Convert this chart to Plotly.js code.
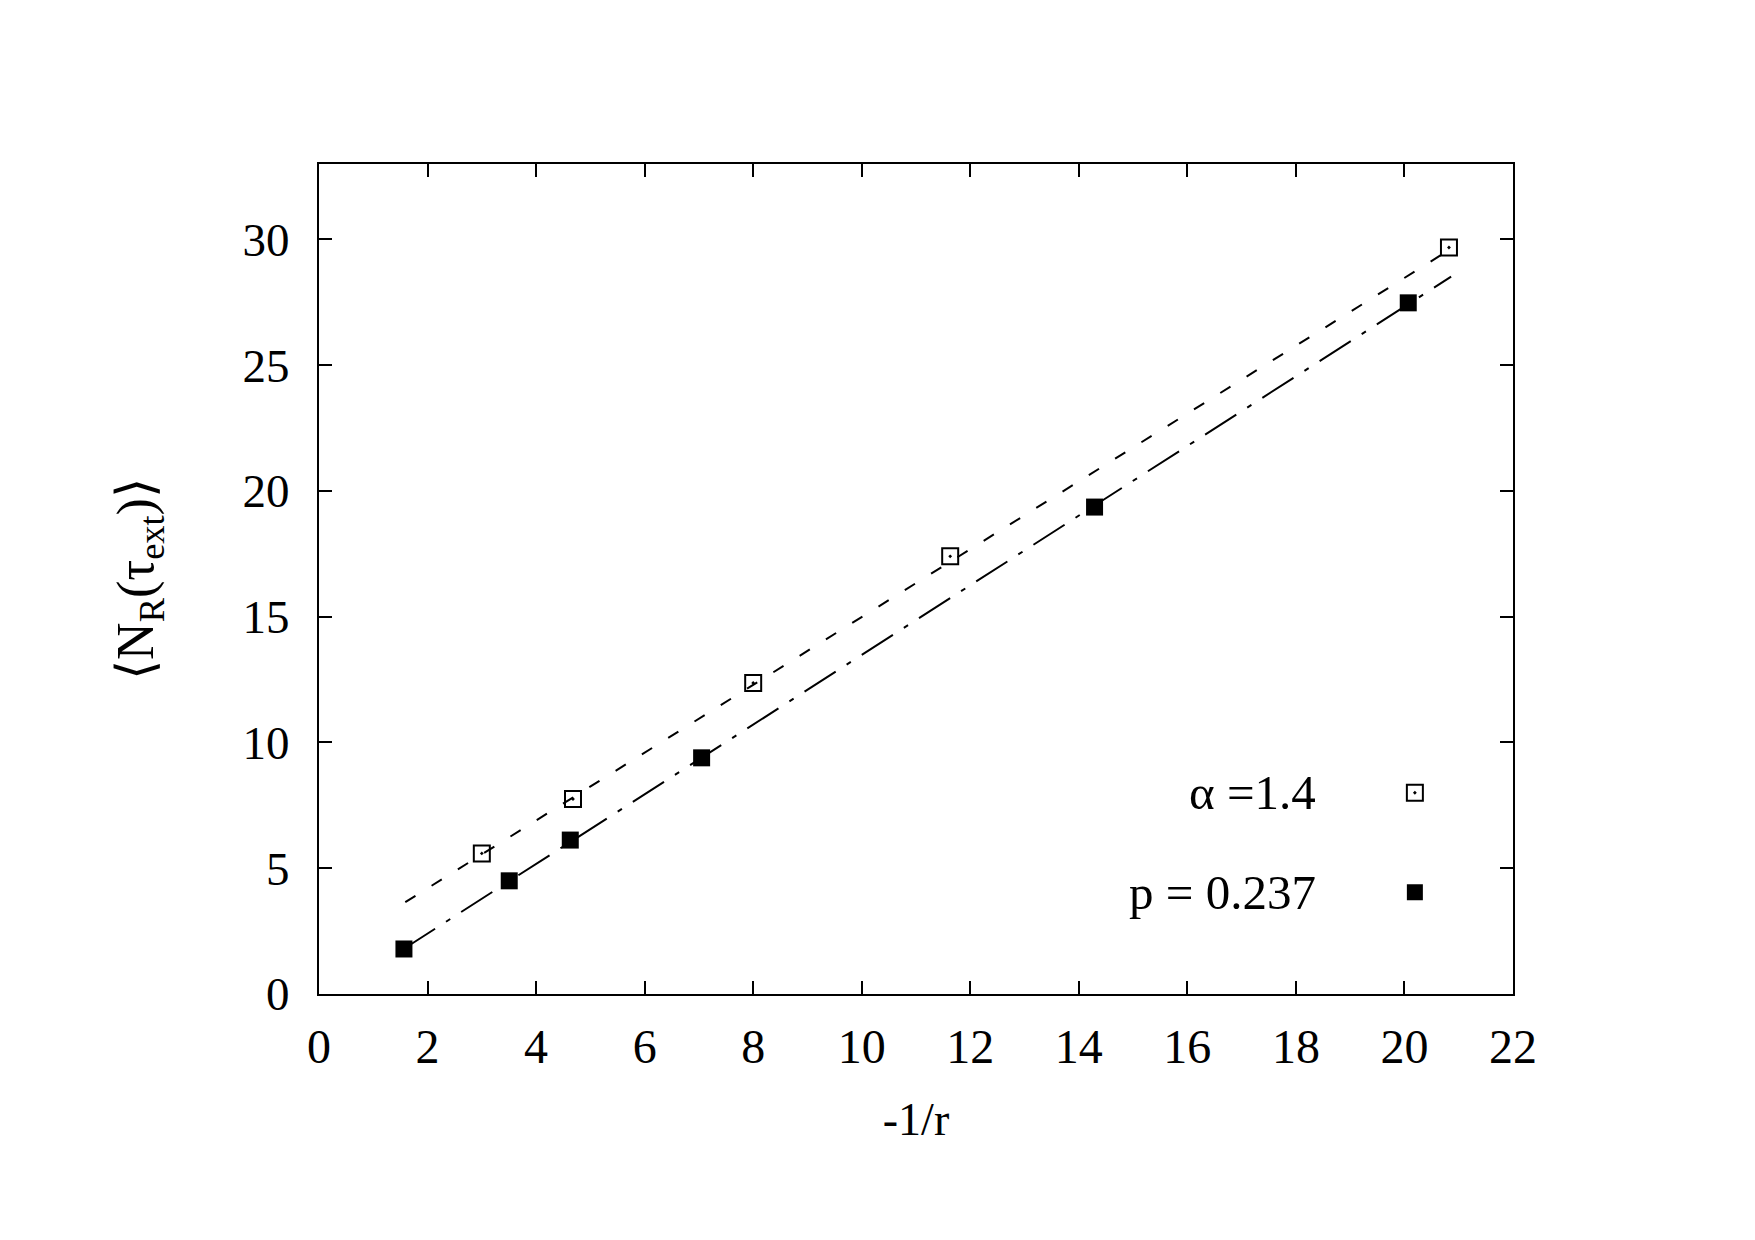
<!DOCTYPE html>
<html>
<head>
<meta charset="utf-8">
<script src="https://cdn.plot.ly/plotly-3.0.1.min.js"></script>
<style>html,body{margin:0;padding:0;background:#fff;}#chart{width:1755px;height:1240px;}</style>
</head>
<body>
<div id="chart"></div>
<script>
// Data
const alphaX = [3.0, 4.68, 8.0, 11.63, 20.82];
const alphaY = [5.59, 7.75, 12.37, 17.40, 29.68];
const pX = [1.565, 3.505, 4.63, 7.05, 14.29, 20.07];
const pY = [1.79, 4.50, 6.12, 9.39, 19.36, 27.48];
// fitted lines (end points)
const fitAlphaX = [1.59, 20.86];
const fitAlphaY = [3.65, 29.63];
const fitPX = [1.565, 20.86];
const fitPY = [1.80, 28.52];
const legendAlpha = "α =1.4";
const legendP = "p = 0.237";
const xTicks = [0, 2, 4, 6, 8, 10, 12, 14, 16, 18, 20, 22];
const yTicks = [0, 5, 10, 15, 20, 25, 30];

const FONT = "Liberation Serif, Times New Roman, serif";

const traces = [
  {x: fitAlphaX, y: fitAlphaY, mode: 'lines', line: {color: '#000', width: 2, dash: '12px,19px'}, showlegend: false, hoverinfo: 'skip'},
  {x: fitPX, y: fitPY, mode: 'lines', line: {color: '#000', width: 2, dash: '37px,13px,5px,13px'}, showlegend: false, hoverinfo: 'skip'},
  {x: alphaX, y: alphaY, mode: 'markers', name: ' ', legend: 'legend',
   marker: {symbol: 'square-open-dot', size: 16, color: '#000', line: {color: '#000', width: 2}}},
  {x: pX, y: pY, mode: 'markers', name: ' ', legend: 'legend2',
   marker: {symbol: 'square', size: 17, color: '#000', line: {width: 0}}}
];

const axisCommon = {
  showline: true, linecolor: '#000', linewidth: 2, mirror: 'ticks',
  ticks: 'inside', ticklen: 13, tickwidth: 2, tickcolor: '#000',
  showgrid: false, zeroline: false
};

const layout = {
  width: 1755, height: 1240,
  margin: {l: 319, r: 242, t: 164, b: 246},
  paper_bgcolor: '#fff', plot_bgcolor: '#fff',
  font: {family: FONT, color: '#000'},
  xaxis: Object.assign({}, axisCommon, {
    range: [0, 22], tickvals: xTicks, ticktext: xTicks.map(String),
    ticklabelstandoff: 9,
    tickfont: {family: FONT, size: 48, color: '#000'},
    title: {text: '-1/r', font: {family: FONT, size: 46, color: '#000'}, standoff: 31}
  }),
  yaxis: Object.assign({}, axisCommon, {
    range: [0, 33], tickvals: yTicks, ticktext: yTicks.map(String),
    ticklabelstandoff: 18,
    tickfont: {family: FONT, size: 47, color: '#000'},
    title: {text: '⟨N<sub>R</sub>(τ<sub>ext</sub>)⟩', font: {family: FONT, size: 52, color: '#000'}, standoff: 72}
  }),
  legend: {x: 0.922, y: 0.2425, xanchor: 'center', yanchor: 'middle', bgcolor: 'rgba(0,0,0,0)', borderwidth: 0, font: {size: 20}},
  legend2: {x: 0.922, y: 0.1225, xanchor: 'center', yanchor: 'middle', bgcolor: 'rgba(0,0,0,0)', borderwidth: 0, font: {size: 20}},
  annotations: [
    {xref: 'paper', yref: 'paper', x: 0.8367, y: 0.2425, xanchor: 'right', yanchor: 'middle', showarrow: false,
     text: legendAlpha, font: {family: FONT, size: 49, color: '#000'}},
    {xref: 'paper', yref: 'paper', x: 0.8367, y: 0.1225, xanchor: 'right', yanchor: 'middle', showarrow: false,
     text: legendP, font: {family: FONT, size: 49, color: '#000'}}
  ]
};

Plotly.newPlot('chart', traces, layout, {staticPlot: true});
</script>
</body>
</html>
